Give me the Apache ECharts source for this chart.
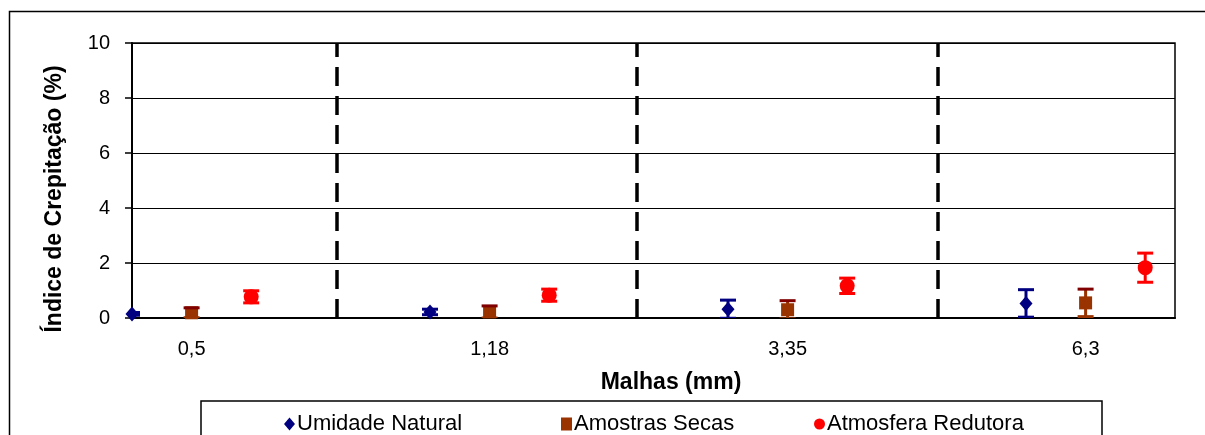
<!DOCTYPE html>
<html>
<head>
<meta charset="utf-8">
<script src="https://cdn.jsdelivr.net/npm/echarts@6/dist/echarts.min.js"></script>
<style>html,body{margin:0;padding:0;background:#fff}#c{width:1205px;height:435px}</style>
</head>
<body>
<div id="c"></div>
<script>
// ---- data ----
const categories = ['0,5', '1,18', '3,35', '6,3'];
const seriesNames = ['Umidade Natural', 'Amostras Secas', 'Atmosfera Redutora'];
// x slot of each point on the numeric axis (groups separated by dashed lines)
const unX = [0, 5, 10, 15];
const asX = [1, 6, 11, 16];
const arX = [2, 7, 12, 17];
const dividerX = [3.43, 8.47, 13.52];
// values (%) and error (+/-)
const unVal = [0.15, 0.22, 0.32, 0.53];
const unErr = [0.05, 0.1, 0.33, 0.5];
const asVal = [0.19, 0.22, 0.3, 0.55];
const asErr = [0.18, 0.22, 0.33, 0.5];
const arVal = [0.77, 0.83, 1.17, 1.83];
const arErr = [0.22, 0.22, 0.28, 0.53];
const yTicks = [0, 2, 4, 6, 8, 10];

const FONT = '"Liberation Sans", Arial, sans-serif';
const C_UN = '#000080', C_AS = '#993300', C_AS_CAP = '#800000', C_AR = '#FF0000';

function pts(xs, vs) { return xs.map((x, i) => [x, vs[i]]); }
function errs(xs, vs, es) { return xs.map((x, i) => [x, vs[i] - es[i], vs[i] + es[i]]); }

function errorRender(color, capColor) {
  return function (params, api) {
    const x = api.value(0), lo = api.value(1), hi = api.value(2);
    const pLo = api.coord([x, lo]);
    const pHi = api.coord([x, hi]);
    const hw = 8;
    return {
      type: 'group',
      children: [
        { type: 'line', shape: { x1: pLo[0], y1: pLo[1], x2: pHi[0], y2: pHi[1] }, style: { stroke: color, lineWidth: 3 } },
        { type: 'line', shape: { x1: pHi[0] - hw, y1: pHi[1], x2: pHi[0] + hw, y2: pHi[1] }, style: { stroke: capColor, lineWidth: 3 } },
        { type: 'line', shape: { x1: pLo[0] - hw, y1: pLo[1], x2: pLo[0] + hw, y2: pLo[1] }, style: { stroke: color, lineWidth: 3 } }
      ]
    };
  };
}

const chart = echarts.init(document.getElementById('c'), null, { renderer: 'canvas' });

const legendBase = {
  top: 408, itemWidth: 11, itemHeight: 13, itemGap: 0,
  textStyle: { fontFamily: FONT, fontSize: 22, color: '#000', padding: [0, 0, 0, -3] },
  selectedMode: false
};

chart.setOption({
  backgroundColor: '#fff',
  animation: false,
  textStyle: { fontFamily: FONT },
  grid: { left: 132, right: 30, top: 43, bottom: 117, show: true, borderColor: '#000', borderWidth: 1.5, backgroundColor: 'transparent' },
  xAxis: {
    type: 'value', min: 0, max: 17.5, interval: 1,
    axisLine: { show: true, onZero: false, lineStyle: { color: '#000', width: 2 } },
    axisTick: { show: false },
    splitLine: { show: false },
    axisLabel: {
      fontFamily: FONT, fontSize: 20, color: '#000', margin: 21, showMaxLabel: false, showMinLabel: true,
      formatter: function (v) { const i = asX.indexOf(v); return i >= 0 ? categories[i] : ''; }
    }
  },
  yAxis: {
    type: 'value', min: yTicks[0], max: yTicks[yTicks.length - 1], interval: 2,
    axisLine: { show: true, lineStyle: { color: '#000', width: 2 } },
    axisTick: { show: true, length: 7, lineStyle: { color: '#000', width: 1.5 } },
    splitLine: { show: true, lineStyle: { color: '#000', width: 1.2 } },
    axisLabel: { fontFamily: FONT, fontSize: 20, color: '#000', margin: 22 }
  },
  legend: [
    Object.assign({}, legendBase, { left: 279, data: [{ name: seriesNames[0], icon: 'diamond' }] }),
    Object.assign({}, legendBase, { left: 556, data: [{ name: seriesNames[1], icon: 'rect' }] }),
    Object.assign({}, legendBase, { left: 809, data: [{ name: seriesNames[2], icon: 'circle' }] })
  ],
  graphic: [
    { type: 'rect', z: 0, shape: { x: 9.5, y: 11.5, width: 1300, height: 500 }, style: { fill: 'none', stroke: '#000', lineWidth: 1.5 } },
    { type: 'rect', z: 0, shape: { x: 201, y: 401, width: 901, height: 60 }, style: { fill: '#fff', stroke: '#000', lineWidth: 1.5 } },
    { type: 'text', z: 5, x: 55, y: 199, rotation: Math.PI / 2,
      style: { text: 'Índice de Crepitação (%)', font: 'bold 23px ' + FONT, fill: '#000', textAlign: 'center', textVerticalAlign: 'middle' } },
    { type: 'text', z: 5, x: 671, y: 383,
      style: { text: 'Malhas (mm)', font: 'bold 23px ' + FONT, fill: '#000', textAlign: 'center', textVerticalAlign: 'middle' } }
  ],
  series: [
    { name: seriesNames[0], type: 'scatter', symbol: 'diamond', symbolSize: [13, 15], clip: false, z: 3,
      itemStyle: { color: C_UN, opacity: 1 }, data: pts(unX, unVal),
      markLine: {
        silent: true, symbol: 'none', label: { show: false },
        lineStyle: { color: '#000', width: 3.5, type: [19, 10], opacity: 1 },
        data: dividerX.map(x => [{ coord: [x, yTicks[0]] }, { coord: [x, yTicks[yTicks.length - 1]] }])
      } },
    { name: seriesNames[1], type: 'scatter', symbol: 'rect', symbolSize: 13, clip: false, z: 3,
      itemStyle: { color: C_AS, opacity: 1 }, data: pts(asX, asVal) },
    { name: seriesNames[2], type: 'scatter', symbol: 'circle', symbolSize: 15, clip: false, z: 3,
      itemStyle: { color: C_AR, opacity: 1 }, data: pts(arX, arVal) },
    { name: seriesNames[0] + ' err', type: 'custom', clip: true, z: 4, renderItem: errorRender(C_UN, C_UN), data: errs(unX, unVal, unErr), encode: { x: 0, y: [1, 2] } },
    { name: seriesNames[1] + ' err', type: 'custom', clip: true, z: 4, renderItem: errorRender(C_AS, C_AS_CAP), data: errs(asX, asVal, asErr), encode: { x: 0, y: [1, 2] } },
    { name: seriesNames[2] + ' err', type: 'custom', clip: true, z: 4, renderItem: errorRender(C_AR, C_AR), data: errs(arX, arVal, arErr), encode: { x: 0, y: [1, 2] } }
  ]
});
</script>
</body>
</html>
